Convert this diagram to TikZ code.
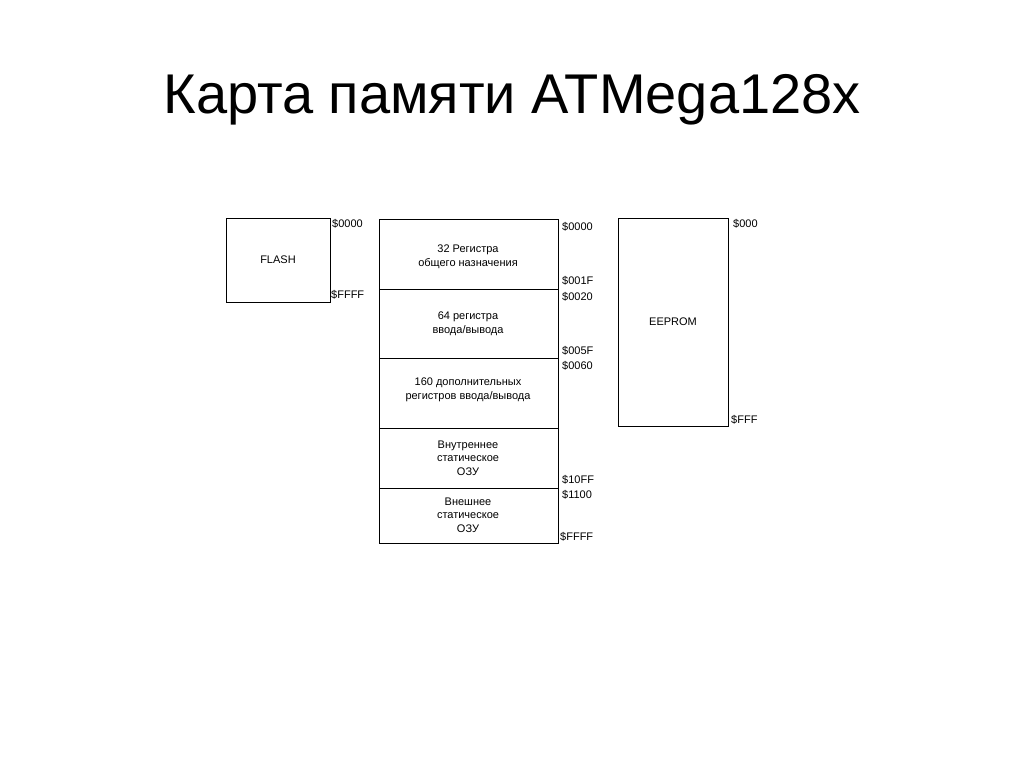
\documentclass[tikz,border=0pt]{standalone}
\usepackage{fontspec}
\setmainfont{Liberation Sans}
\begin{document}
\begin{tikzpicture}[x=1pt,y=-1pt,
  blk/.style={draw,line width=0.8pt},
  lbl/.style={anchor=west,font=\fontsize{11}{12}\selectfont,inner sep=0pt},
  txt/.style={align=center,font=\fontsize{11}{13.5}\selectfont}]
\useasboundingbox (0,0) rectangle (1024,767);
\node (title) at (512,100) {\fontsize{56}{60}\selectfont Карта памяти ATMega128x};
\draw[blk] (226,218) rectangle (330,302);
\node[txt] (flash) at (278,260) {FLASH};
\draw[blk] (618,218) rectangle (728,426);
\node[txt] (ee) at (673,322) {EEPROM};
\draw[blk] (379,219) rectangle (558,543);
\foreach \y in {289,358,428,488} \draw[blk] (379,\y) -- (558,\y);
\node[txt] (r1) at (468,257) {32 Регистра\\общего назначения};
\node[txt] (r2) at (468,324) {64 регистра\\ввода/вывода};
\node[txt] (r3) at (468,390) {160 дополнительных\\регистров ввода/вывода};
\node[txt] (r4) at (468,458) {Внутреннее\\статическое\\ОЗУ};
\node[txt] (r5) at (468,515) {Внешнее\\статическое\\ОЗУ};
\node[lbl] (a1) at (332,224) {\$0000};
\node[lbl] (a2) at (331,295) {\$FFFF};
\node[lbl] (b1) at (562,227) {\$0000};
\node[lbl] (b2) at (562,281) {\$001F};
\node[lbl] (b3) at (562,297) {\$0020};
\node[lbl] (b4) at (562,351) {\$005F};
\node[lbl] (b5) at (562,366) {\$0060};
\node[lbl] (b6) at (562,480) {\$10FF};
\node[lbl] (b7) at (562,495) {\$1100};
\node[lbl] (b8) at (560,537) {\$FFFF};
\node[lbl] (c1) at (733,224) {\$000};
\node[lbl] (c2) at (731,420) {\$FFF};
\end{tikzpicture}
\end{document}
